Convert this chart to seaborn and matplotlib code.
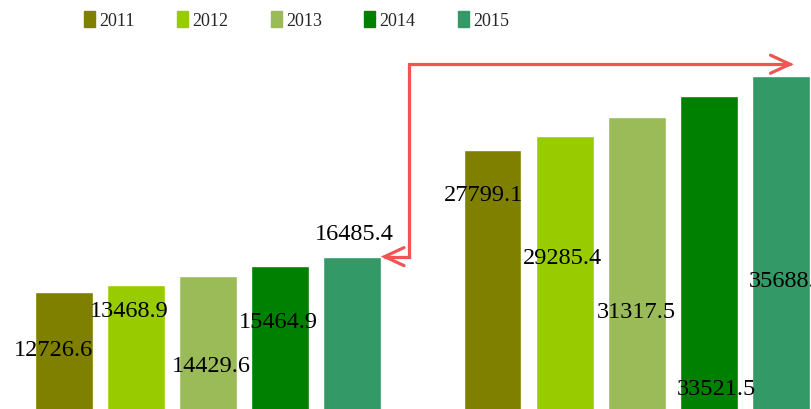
import pandas as pd
import matplotlib.pyplot as plt
import seaborn as sns
from matplotlib.patches import FancyArrowPatch
from matplotlib.path import Path

# Данные
groups = ['A', 'B']
years = ['2011', '2012', '2013', '2014', '2015']
values_a = [12726.6, 13468.9, 14429.6, 15464.9, 16485.4]
values_b = [27799.1, 29285.4, 31317.5, 33521.5, 35688.0]
colors = ['#808000', '#99cc00', '#9bbb59', '#008000', '#339966']

# положение подписей: доля высоты столбца и сдвиг по x (пиксели)
label_frac = [[0.52, 0.83], [0.80, 0.56], [0.34, 0.34], [0.62, 0.075], [1.15, 0.39]]
label_dx = [[-10, -9], [-7, -2], [4, 0], [-2, 8], [2, 7]]

rows = []
for i, y in enumerate(years):
    rows.append({'group': groups[0], 'year': y, 'value': values_a[i]})
    rows.append({'group': groups[1], 'year': y, 'value': values_b[i]})
df = pd.DataFrame(rows)

sns.set_theme(style='white')
plt.rcParams['font.family'] = ['Liberation Serif', 'DejaVu Serif']

fig = plt.figure(figsize=(8.12, 4.10), dpi=100)
ax = fig.add_axes([0, 0, 1, 1])

sns.barplot(data=df, x='group', y='value', hue='year', hue_order=years,
            palette=colors, width=0.84, gap=0.2, saturation=1,
            errorbar=None, legend=False, ax=ax)

ax.set_xlim(-0.4845, 1.4085)
ax.set_ylim(287, 43870)
ax.axis('off')

# Подписи значений
for i, cont in enumerate(ax.containers):
    for j, bar in enumerate(cont):
        cx = bar.get_x() + bar.get_width() / 2
        h = bar.get_height()
        ax.annotate(f'{h:.1f}', xy=(cx, h * label_frac[i][j]),
                    xytext=(label_dx[i][j], 0), textcoords='offset pixels',
                    ha='center', va='center', fontsize=17.5, color='black',
                    annotation_clip=False)

# Стрелка между группами
last_a = ax.containers[-1][0]
x0 = last_a.get_x() + last_a.get_width()
y0 = last_a.get_height()
x_corner = x0 + 0.066
y_top = max(values_b) * 1.035
x_end = 1.366
arrow_path = Path([(x0, y0), (x_corner, y0), (x_corner, y_top), (x_end, y_top)],
                  [Path.MOVETO, Path.LINETO, Path.LINETO, Path.LINETO])
arrow = FancyArrowPatch(path=arrow_path, arrowstyle='<->,head_length=14,head_width=6.5',
                        color='#f25454', linewidth=2.3, mutation_scale=1,
                        joinstyle='miter', capstyle='round', clip_on=False)
ax.add_patch(arrow)

# Легенда
handles = [plt.Rectangle((0, 0), 1, 1, color=c) for c in colors]
fig.legend(handles, years, loc='center left', bbox_to_anchor=(84 / 812, 1 - 21 / 410),
           ncol=5, frameon=False, fontsize=13, handlelength=0.6, handleheight=0.95,
           handletextpad=0.25, columnspacing=2.34, borderpad=0, borderaxespad=0)

plt.savefig('out.png', dpi=100)
